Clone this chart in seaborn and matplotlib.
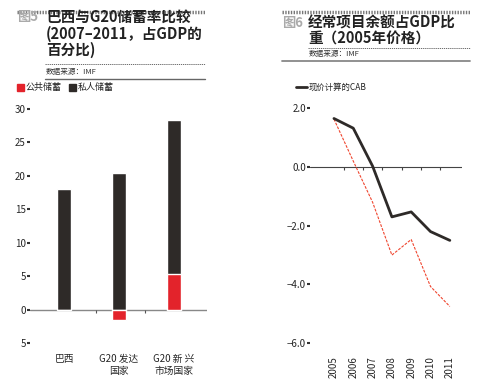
import numpy as np
import pandas as pd
import matplotlib
matplotlib.use("Agg")
import matplotlib.pyplot as plt
from matplotlib.lines import Line2D
import seaborn as sns

# data
categories = ["巴西", "G20 发达\n国家", "G20 新 兴\n市场国家"]
public_saving = [0.0, -1.5, 5.3]
private_saving = [18.0, 20.4, 23.0]
left_yticks = [30, 25, 20, 15, 10, 5, 0, -5]
left_yticklabels = ["30", "25", "20", "15", "10", "5", "0", "5"]

years = [2005, 2006, 2007, 2008, 2009, 2010, 2011]
cab_current = [1.65, 1.32, 0.03, -1.70, -1.53, -2.20, -2.50]
cab_2005 = [1.63, 0.20, -1.20, -3.00, -2.47, -4.07, -4.75]
right_yticks = [2.0, 0.0, -2.0, -4.0, -6.0]
right_yticklabels = ["2.0", "0.0", "\u22122.0", "\u22124.0", "\u22126.0"]

RED = "#e3232b"
DARK = "#2e2a28"
W, H = 480, 388

sns.set_theme(style="white")
plt.rcParams['font.family'] = ['Noto Sans CJK SC', 'DejaVu Sans']
plt.rcParams['axes.unicode_minus'] = True

fig = plt.figure(figsize=(4.8, 3.88), dpi=100)


def fx(px):
    return px / W


def fy(py):
    return 1 - py / H


def hline(x0, x1, y, **kw):
    fig.add_artist(Line2D([fx(x0), fx(x1)], [fy(y), fy(y)], transform=fig.transFigure, **kw))


# ---- left header ----
hline(17, 205, 12, color="#777777", lw=2.5, linestyle=(0, (0.4, 0.4)))
fig.text(fx(17), fy(17), "图5", fontsize=9.5, color="#aaaaaa", va="center", fontweight="bold")
title_l = ["巴西与G20储蓄率比较", "(2007–2011，占GDP的", "百分比)"]
for i, t in enumerate(title_l):
    fig.text(fx(46), fy(17 + 16.5 * i), t, fontsize=10.5, fontweight="bold", color="#222222", va="center")
hline(45, 205, 64, color="#555555", lw=0.6, linestyle=(0, (1.5, 1)))
fig.text(fx(46), fy(72), "数据来源：IMF", fontsize=5.5, color="#333333", va="center")
hline(45, 205, 78.5, color="#666666", lw=1.0)
fig.patches.append(plt.Rectangle((fx(17), fy(91)), fx(7), 7 / H, transform=fig.transFigure, color=RED))
fig.text(fx(26), fy(87.5), "公共储蓄", fontsize=6.5, color="#222222", va="center")
fig.patches.append(plt.Rectangle((fx(69), fy(91)), fx(7), 7 / H, transform=fig.transFigure, color=DARK))
fig.text(fx(78), fy(87.5), "私人储蓄", fontsize=6.5, color="#222222", va="center")

# ---- right header ----
hline(282, 470, 12, color="#777777", lw=2.5, linestyle=(0, (0.4, 0.4)))
fig.text(fx(282), fy(23), "图6", fontsize=9.5, color="#aaaaaa", va="center", fontweight="bold")
title_r = ["经常项目余额占GDP比", "重（2005年价格）"]
for i, t in enumerate(title_r):
    fig.text(fx(308), fy(23 + 16 * i), t, fontsize=10.5, fontweight="bold", color="#222222", va="center")
hline(308, 470, 48, color="#555555", lw=0.6, linestyle=(0, (1.5, 1)))
fig.text(fx(309), fy(54), "数据来源：IMF", fontsize=5.5, color="#333333", va="center")
hline(282, 470, 61, color="#888888", lw=1.3)
hline(296, 307, 87, color=DARK, lw=2)
fig.text(fx(309), fy(87), "现价计算的CAB", fontsize=6, color="#222222", va="center")

# ---- left chart: stacked bars ----
ax1 = fig.add_axes([fx(30), fy(350.2), fx(177), 248 / H])
df = pd.DataFrame({"cat": categories, "public": public_saving, "private": private_saving})
df["top"] = df["private"] + df["public"].clip(lower=0)
sns.barplot(data=df, x="cat", y="top", color=DARK, saturation=1, width=0.26, ax=ax1)
sns.barplot(data=df, x="cat", y="public", color=RED, saturation=1, width=0.26, ax=ax1)
ax1.set_xlim(-0.62, 2.6)
ax1.set_ylim(-6, 31)
ax1.axhline(0, color="#888888", lw=1.0, zorder=0)
ax1.vlines([0.58, 1.47], -0.4, 0, color="#555555", lw=0.8)
ax1.set_yticks(left_yticks)
ax1.set_yticklabels(left_yticklabels, fontsize=7)
ax1.tick_params(axis="y", length=2, width=1.5, pad=1, color="#333333", left=True)
ax1.tick_params(axis="x", length=0, pad=3, labelsize=7)
ax1.set_xlabel("")
ax1.set_ylabel("")
for s in ax1.spines.values():
    s.set_visible(False)

# ---- right chart: lines ----
ax2 = fig.add_axes([fx(310), fy(352), fx(152), 252.6 / H])
ldf = pd.DataFrame({"year": years, "cur": cab_current, "p2005": cab_2005})
sns.lineplot(data=ldf, x="year", y="p2005", color="#f0452e", lw=0.8, linestyle=(0, (2.5, 1.2)), ax=ax2)
sns.lineplot(data=ldf, x="year", y="cur", color=DARK, lw=2, ax=ax2)
ax2.set_xlim(2003.76, 2011.63)
ax2.set_ylim(-6.3, 2.3)
ax2.axhline(0, color="#444444", lw=0.8, zorder=0)
ax2.vlines([y + 0.5 for y in years[:-1]], -0.12, 0, color="#444444", lw=0.8)
ax2.set_yticks(right_yticks)
ax2.set_yticklabels(right_yticklabels, fontsize=7)
ax2.tick_params(axis="y", length=2, width=1.5, pad=1, color="#333333", left=True)
ax2.set_xticks(years)
ax2.set_xticklabels([str(y) for y in years], rotation=90, fontsize=7)
ax2.tick_params(axis="x", length=0, pad=3)
ax2.set_xlabel("")
ax2.set_ylabel("")
for s in ax2.spines.values():
    s.set_visible(False)

fig.savefig("out.png", dpi=100)
